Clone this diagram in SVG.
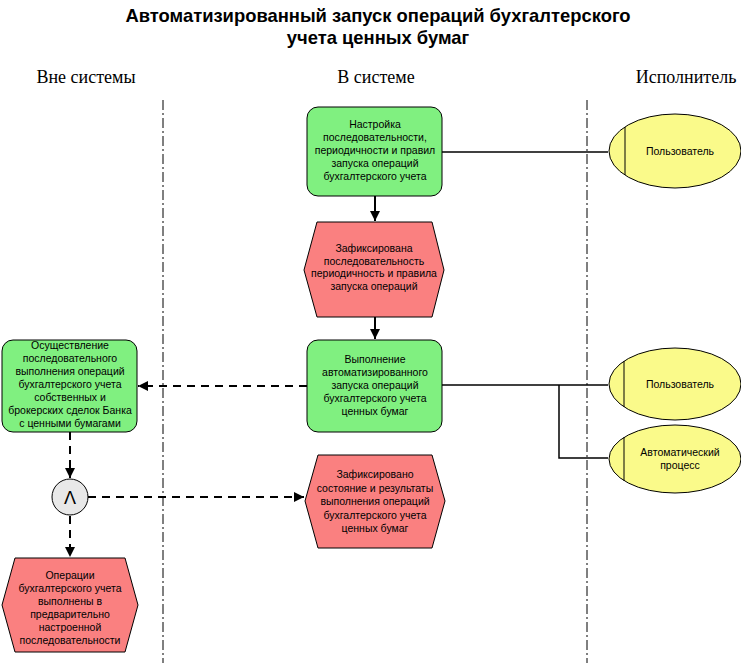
<svg xmlns="http://www.w3.org/2000/svg" width="741" height="663" viewBox="0 0 741 663">
<defs>
<style>
.title{font-family:"Liberation Sans",Arial,sans-serif;font-weight:bold;font-size:18.4px;text-anchor:middle;fill:#000}
.lane{font-family:"Liberation Serif","Times New Roman",serif;font-size:18px;text-anchor:middle;fill:#000}
.t{font-family:"Liberation Sans",Arial,sans-serif;font-size:10.5px;text-anchor:middle;fill:#000}
.fn{fill:#80f080;stroke:#000;stroke-width:1}
.ev{fill:#fa8080;stroke:#000;stroke-width:1}
.org{fill:#fafa8a;stroke:#000;stroke-width:1}
.sep{stroke:#000;stroke-width:1;stroke-dasharray:10,3,2,3;fill:none}
.solid{stroke:#000;stroke-width:1.5;fill:none}
.dash{stroke:#000;stroke-width:2;stroke-dasharray:8,6;fill:none}
.arr{stroke:#000;stroke-width:2;fill:none}
</style>
<marker id="ah" viewBox="0 0 10 10" refX="10" refY="5" markerWidth="5" markerHeight="5" orient="auto" markerUnits="strokeWidth">
<path d="M0,0 L10,5 L0,10 z" fill="#000"/>
</marker>
</defs>
<rect width="741" height="663" fill="#fff"/>
<text class="title" x="378" y="22">Автоматизированный запуск операций бухгалтерского</text>
<text class="title" x="378" y="44">учета ценных бумаг</text>
<text class="lane" x="86" y="83">Вне системы</text>
<text class="lane" x="376" y="83">В системе</text>
<text class="lane" x="686" y="83">Исполнитель</text>
<line class="sep" x1="163" y1="100" x2="163" y2="663"/>
<line class="sep" x1="587" y1="100" x2="587" y2="663"/>

<g id="connectors">
<line class="solid" x1="442" y1="152" x2="608" y2="152"/>
<polyline class="solid" points="442,385 608,385"/>
<polyline class="solid" points="559,385 559,458 608,458"/>
<line class="arr" x1="375" y1="196" x2="375" y2="221" marker-end="url(#ah)"/>
<line class="arr" x1="375" y1="317" x2="375" y2="339" marker-end="url(#ah)"/>
<line class="dash" x1="307" y1="386" x2="138" y2="386" marker-end="url(#ah)"/>
<line class="dash" x1="70" y1="432" x2="70" y2="478" marker-end="url(#ah)"/>
<line class="dash" x1="88" y1="497" x2="304" y2="497" marker-end="url(#ah)"/>
<line class="dash" x1="70" y1="516" x2="70" y2="557" marker-end="url(#ah)"/>
</g>

<g id="f1">
<rect class="fn" x="307" y="107" width="135" height="89" rx="11"/>
<text class="t" x="375" y="128">Настройка</text>
<text class="t" x="375" y="141">последовательности,</text>
<text class="t" x="375" y="154">периодичности и правил</text>
<text class="t" x="375" y="167">запуска операций</text>
<text class="t" x="375" y="180">бухгалтерского учета</text>
</g>

<g id="e1">
<polygon class="ev" points="317,222 432,222 444,270 432,317 317,317 304,270"/>
<text class="t" x="374" y="252">Зафиксирована</text>
<text class="t" x="374" y="264.5">последовательность</text>
<text class="t" x="374" y="277">периодичность и правила</text>
<text class="t" x="374" y="289.5">запуска операций</text>
</g>

<g id="f2">
<rect class="fn" x="307" y="340" width="135" height="92" rx="11"/>
<text class="t" x="375" y="363">Выполнение</text>
<text class="t" x="375" y="376">автоматизированного</text>
<text class="t" x="375" y="389">запуска операций</text>
<text class="t" x="375" y="402">бухгалтерского учета</text>
<text class="t" x="375" y="415">ценных бумаг</text>
</g>

<g id="f3">
<rect class="fn" x="2" y="340" width="135" height="92" rx="11"/>
<text class="t" x="70" y="349">Осуществление</text>
<text class="t" x="70" y="362">последовательного</text>
<text class="t" x="70" y="375">выполнения операций</text>
<text class="t" x="70" y="388">бухгалтерского учета</text>
<text class="t" x="70" y="401">собственных и</text>
<text class="t" x="70" y="414">брокерских сделок Банка</text>
<text class="t" x="70" y="427">с ценными бумагами</text>
</g>

<g id="and">
<circle cx="70" cy="497" r="18" fill="#e8e8e8" stroke="#000" stroke-width="1"/>
<text x="70" y="504" font-family="Liberation Sans,Arial,sans-serif" font-size="18" text-anchor="middle">Λ</text>
</g>

<g id="e2">
<polygon class="ev" points="318,455 432,455 445,501 432,548 318,548 305,501"/>
<text class="t" x="375" y="478">Зафиксировано</text>
<text class="t" x="375" y="491.5">состояние и результаты</text>
<text class="t" x="375" y="505">выполнения операций</text>
<text class="t" x="375" y="518.5">бухгалтерского учета</text>
<text class="t" x="375" y="532">ценных бумаг</text>
</g>

<g id="e3">
<polygon class="ev" points="15,558 125,558 138,605 125,652 15,652 2,605"/>
<text class="t" x="70" y="579">Операции</text>
<text class="t" x="70" y="592">бухгалтерского учета</text>
<text class="t" x="70" y="605">выполнены в</text>
<text class="t" x="70" y="618">предварительно</text>
<text class="t" x="70" y="631">настроенной</text>
<text class="t" x="70" y="644">последовательности</text>
</g>

<g id="o1">
<ellipse class="org" cx="675" cy="151" rx="66" ry="37"/>
<line x1="625" y1="127" x2="625" y2="175" stroke="#000" stroke-width="1"/>
<text class="t" x="680" y="155">Пользователь</text>
</g>

<g id="o2">
<ellipse class="org" cx="675" cy="384" rx="66" ry="36"/>
<line x1="624" y1="361" x2="624" y2="407" stroke="#000" stroke-width="1"/>
<text class="t" x="680" y="388">Пользователь</text>
</g>

<g id="o3">
<ellipse class="org" cx="675" cy="459" rx="66" ry="34"/>
<line x1="624" y1="437" x2="624" y2="481" stroke="#000" stroke-width="1"/>
<text class="t" x="680" y="456">Автоматический</text>
<text class="t" x="680" y="469">процесс</text>
</g>
</svg>
